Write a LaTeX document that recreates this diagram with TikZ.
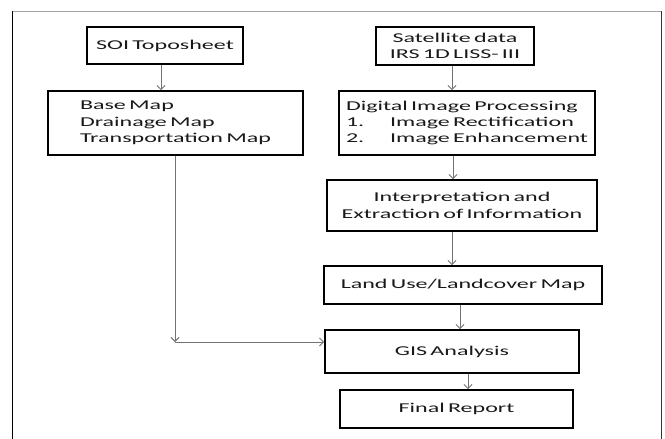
\documentclass[tikz,border=0pt]{standalone}
\usepackage{fontspec}
\setmainfont{Carlito}[FakeStretch=1.78, WordSpace=0.6]
\usepackage{tikz}
\usetikzlibrary{arrows.meta,calc}

\begin{document}
\begin{tikzpicture}[
  x=1pt, y=-1pt,
  box/.style={draw, line width=1.6pt, align=center, inner sep=2pt,
              font=\fontsize{13.5pt}{16.3pt}\selectfont, text=black!90},
  arr/.style={-{Straight Barb[length=4pt, width=8pt]}, draw=black!55, line width=1pt},
  frame/.style={line width=1.3pt}
]
  \useasboundingbox (0,0) rectangle (665,439);
  % page frame
  \draw[black!35, line width=0.9pt] (12.7,11.3) -- (661.7,11.3);
  \draw[frame] (12.7,11.3) -- (12.7,439);
  \draw[frame, black!80] (661.7,11.3) -- (661.7,439);

  \node[box, minimum width=156pt, minimum height=37pt] (soi) at (165,45.5) {SOI Toposheet};
  \node[box, minimum width=255pt, minimum height=64pt, align=left] (base) at (175.5,123)
    {Base Map\\Drainage Map\\Transportation Map};
  \node[box, minimum width=158pt, minimum height=38pt] (sat) at (455,46)
    {Satellite data\\IRS 1D LISS- III};
  \node[box, minimum width=256pt, minimum height=64pt, align=left] (dip) at (467,123)
    {Digital Image Processing\\\makebox[44pt][l]{1.}Image Rectification\\\makebox[44pt][l]{2.}Image Enhancement};
  \node[box, minimum width=270pt, minimum height=51pt] (interp) at (462,205.5)
    {Interpretation and\\Extraction of Information};
  \node[box, minimum width=278pt, minimum height=38pt] (land) at (463,285) {Land Use/Landcover Map};
  \node[box, minimum width=254pt, minimum height=43pt] (gis) at (452,351.5) {GIS Analysis};
  \node[box, minimum width=233pt, minimum height=38pt] (final) at (456.5,409) {Final Report};
  \coordinate (bend) at (175,342);

  \draw[arr] ([xshift=-4pt]soi.south) -- ([xshift=-4pt]soi.south |- base.north);
  \draw[arr] ([xshift=-3pt]sat.south) -- ([xshift=-3pt]sat.south |- dip.north);
  \draw[arr] ([xshift=-14pt]dip.south) -- ([xshift=-14pt]dip.south |- interp.north);
  \draw[arr] ([xshift=-10pt]interp.south) -- ([xshift=-10pt]interp.south |- land.north);
  \draw[arr] ([xshift=-3pt]land.south) -- ([xshift=-3pt]land.south |- gis.north);
  \draw[arr] ([xshift=16pt]gis.south) -- ([xshift=16pt]gis.south |- final.north);
  \draw[arr] (base.south -| bend) -- (bend);
  \draw[arr] (bend) -- (bend -| gis.west);
\end{tikzpicture}
\end{document}
